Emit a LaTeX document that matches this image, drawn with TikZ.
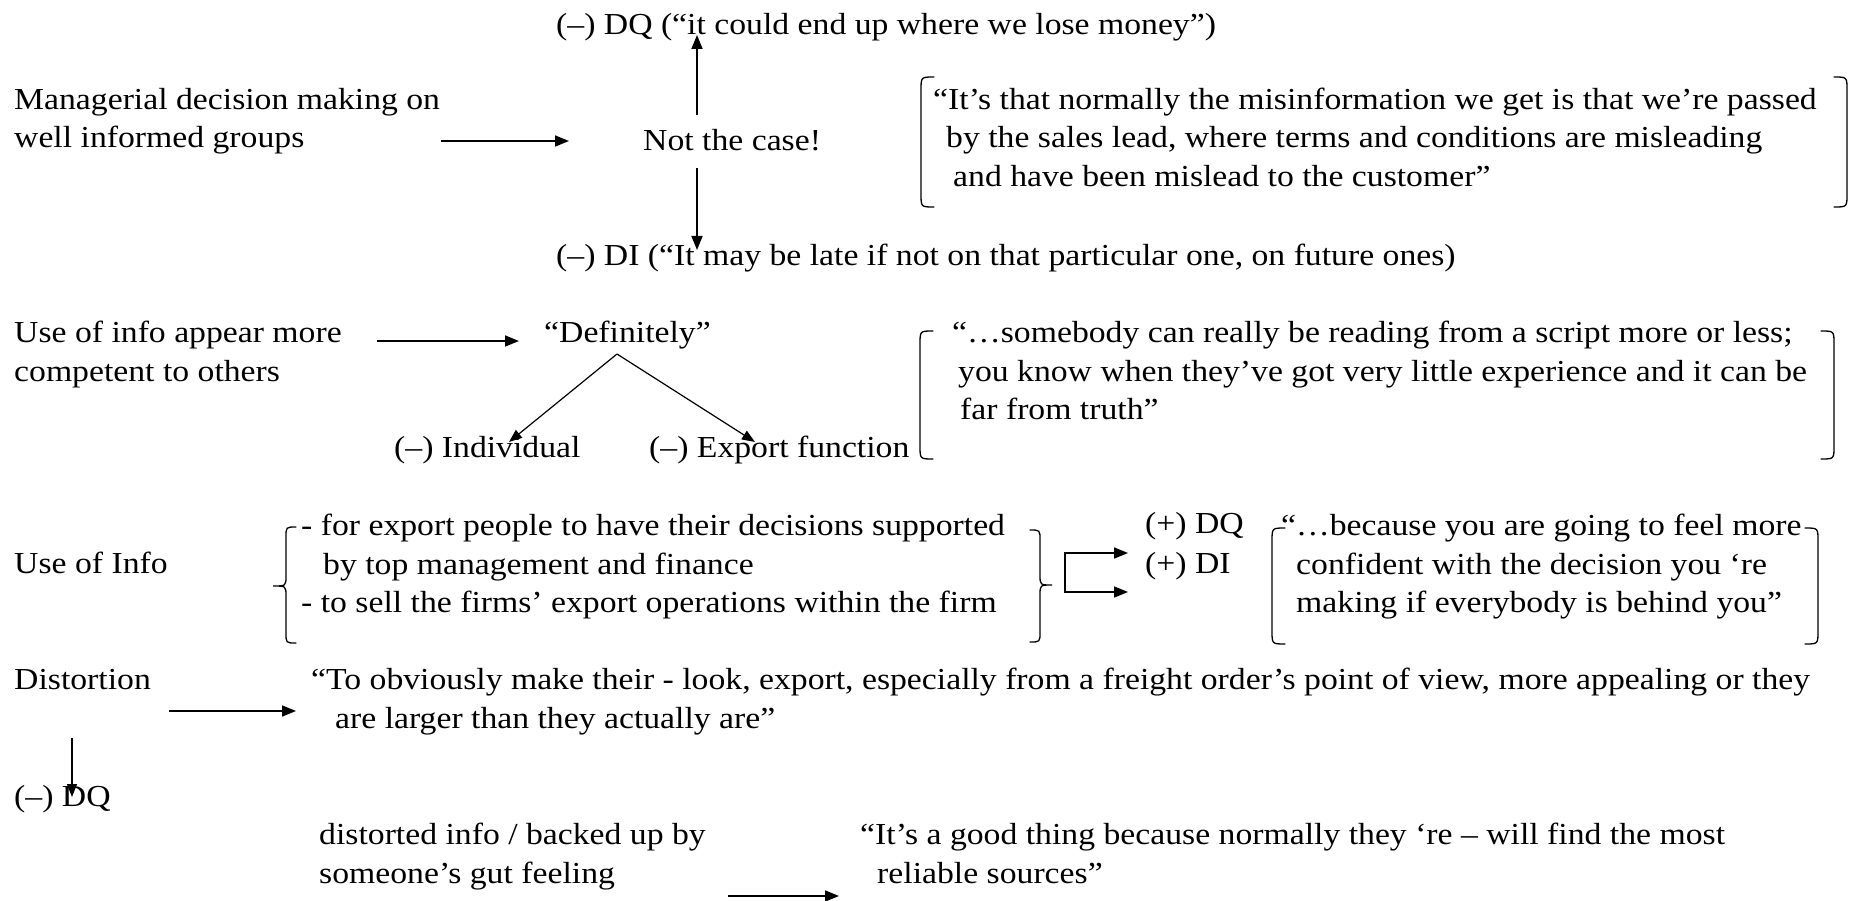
\documentclass[tikz,border=0pt]{standalone}
\usepackage{fontspec}
\setmainfont{Liberation Serif}[FakeStretch=1.105]
\usetikzlibrary{arrows.meta}

% rounded bracket pair pieces
\newcommand{\openbrk}[3]{\draw[brk] (#1+13,#2) .. controls (#1,#2) .. (#1,#2+13) -- (#1,#3-13) .. controls (#1,#3) .. (#1+13,#3);}
\newcommand{\closebrk}[3]{\draw[brk] (#1-13,#2) .. controls (#1,#2) .. (#1,#2+13) -- (#1,#3-13) .. controls (#1,#3) .. (#1-13,#3);}

\begin{document}
% multi-line texts are placed by the baseline of their last line
\begin{tikzpicture}[x=1pt,y=-1pt,
  txt/.style={anchor=base west, inner sep=0pt, align=left, yshift=-2.5pt, font=\fontsize{30.5}{38.5}\selectfont},
  arr/.style={line width=1.6pt, -{Triangle[length=14pt,width=11pt]}},
  thinarr/.style={line width=1.2pt, -{Triangle[length=13pt,width=10pt]}},
  brk/.style={line width=1.3pt, line cap=round}]
\useasboundingbox[fill=white] (0,0) rectangle (1854,901);

% ---- row 1
\node[txt] (dq1) at (556,32) {(–) DQ (“it could end up where we lose money”)};
\node[txt] (mgr) at (14,145.5) {Managerial decision making on\\well informed groups};
\node[txt] (notcase) at (643,148) {Not the case!};
\node[txt] (di1) at (556,263) {(–) DI (“It may be late if not on that particular one, on future ones)};
\node[txt] (q1) at (933,184) {“It’s that normally the misinformation we get is that we’re passed\\\hspace*{13pt}by the sales lead, where terms and conditions are misleading\\\hspace*{20pt}and have been mislead to the customer”};
\openbrk{921}{77}{207}
\closebrk{1847}{77}{207}

\coordinate (a1s) at (441,141);
\coordinate (a1e) at (569,141);
\coordinate (ups) at (697,115);
\coordinate (upe) at (697,35);
\coordinate (dns) at (697,168);
\coordinate (dne) at (697,250);
\draw[arr] (a1s) -- (a1e);
\draw[arr] (ups) -- (upe);
\draw[arr] (dns) -- (dne);

% ---- row 2
\node[txt] (use1) at (14,378.5) {Use of info appear more\\competent to others};
\node[txt] (defin) at (544,340) {“Definitely”};
\node[txt] (indiv) at (394,455) {(–) Individual};
\node[txt] (expf) at (649,455) {(–) Export function};
\node[txt] (q2) at (952,417) {“…somebody can really be reading from a script more or less;\\\hspace*{6pt}you know when they’ve got very little experience and it can be\\\hspace*{8pt}far from truth”};
\openbrk{920}{331}{459}
\closebrk{1834}{331}{459}

\coordinate (a2s) at (377,341);
\coordinate (a2e) at (519,341);
\coordinate (apex) at (617,354);
\coordinate (ltip) at (509,442);
\coordinate (rtip) at (755,442);
\draw[arr] (a2s) -- (a2e);
\draw[thinarr] (apex) -- (ltip);
\draw[thinarr] (apex) -- (rtip);

% ---- row 3
\node[txt] (use2) at (14,571) {Use of Info};
\node[txt] (uses) at (301,610) {- for export people to have their decisions supported\\\hspace*{22pt}by top management and finance\\- to sell the firms’ export operations within the firm};
\node[txt] (pdq) at (1145,531) {(+) DQ};
\node[txt] (pdi) at (1145,571) {(+) DI};
\node[txt] (q3) at (1281,610) {“…because you are going to feel more\\\hspace*{15pt}confident with the decision you ‘re\\\hspace*{15pt}making if everybody is behind you”};
\openbrk{1272}{528}{644}
\closebrk{1818}{528}{644}

\draw[brk] (296,527) .. controls (286,527) .. (286,537) -- (286,576)
  .. controls (286,586) .. (273,586) .. controls (286,586) .. (286,596)
  -- (286,633) .. controls (286,643) .. (296,643);
\draw[brk] (1030,530) .. controls (1040,530) .. (1040,540) -- (1040,575)
  .. controls (1040,585) .. (1052,585) .. controls (1040,585) .. (1040,595)
  -- (1040,632) .. controls (1040,642) .. (1030,642);

\coordinate (fka) at (1128,553);
\coordinate (fkb) at (1065,553);
\coordinate (fkc) at (1065,592);
\coordinate (fkd) at (1128,592);
\draw[line width=1.6pt, {Triangle[length=14pt,width=11pt]}-{Triangle[length=14pt,width=11pt]}]
  (fka) -- (fkb) -- (fkc) -- (fkd);

% ---- row 4
\node[txt] (dist) at (14,687) {Distortion};
\node[txt] (q4) at (311,725.5) {“To obviously make their - look, export, especially from a freight order’s point of view, more appealing or they\\\hspace*{24pt}are larger than they actually are”};
\node[txt] (ndq) at (14,804) {(–) DQ};

\coordinate (a4s) at (169,711);
\coordinate (a4e) at (296,711);
\coordinate (v4s) at (72,738);
\coordinate (v4e) at (72,797);
\draw[arr] (a4s) -- (a4e);
\draw[thinarr] (v4s) -- (v4e);

% ---- row 5
\node[txt] (gut) at (319,880.5) {distorted info / backed up by\\someone’s gut feeling};
\node[txt] (q5) at (860,880.5) {“It’s a good thing because normally they ‘re – will find the most\\\hspace*{17pt}reliable sources”};

\coordinate (a5s) at (728,896);
\coordinate (a5e) at (839,896);
\draw[arr] (a5s) -- (a5e);
\end{tikzpicture}
\end{document}
